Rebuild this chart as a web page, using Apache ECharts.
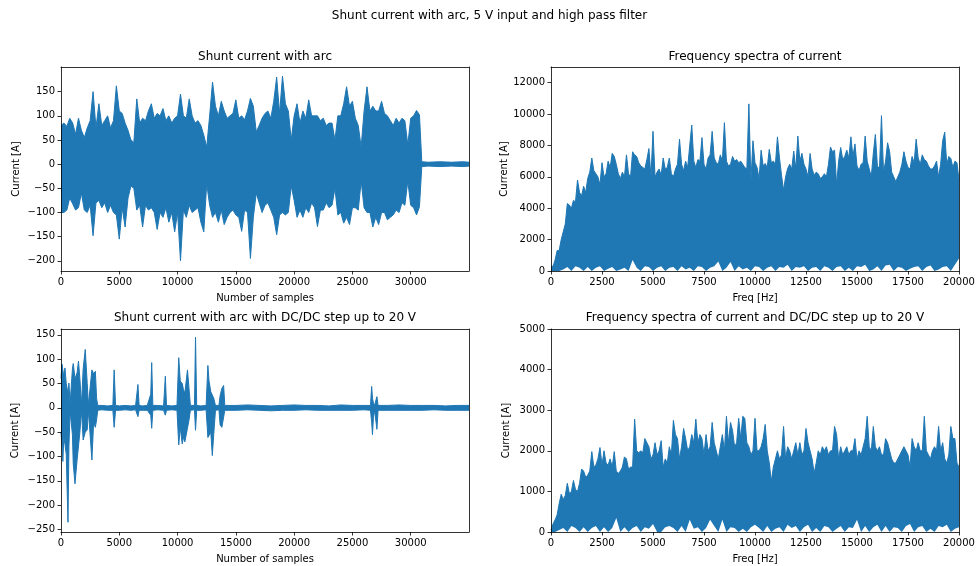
<!DOCTYPE html>
<html><head><meta charset="utf-8">
<script src="https://cdn.jsdelivr.net/npm/echarts@6/dist/echarts.min.js"></script>
<style>html,body{margin:0;padding:0;background:#fff}#c{width:979px;height:566px}</style>
</head><body><div id="c"></div>
<script>
// ---------------- DATA ----------------
const suptitle = 'Shunt current with arc, 5 V input and high pass filter';
const panelTitles = ['Shunt current with arc', 'Frequency spectra of current',
  'Shunt current with arc with DC/DC step up to 20 V', 'Frequency spectra of current and DC/DC step up to 20 V'];
const sampleTicks = [0, 5000, 10000, 15000, 20000, 25000, 30000];
const freqTicks = [0, 2500, 5000, 7500, 10000, 12500, 15000, 17500, 20000];
const tlYTicks = [-200, -150, -100, -50, 0, 50, 100, 150];
const blYTicks = [-250, -200, -150, -100, -50, 0, 50, 100, 150];
const trYTicks = [0, 2000, 4000, 6000, 8000, 10000, 12000];
const brYTicks = [0, 1000, 2000, 3000, 4000, 5000];

// Top-left: envelope of shunt current per 250-sample bin (max / min)
const tlBin = 250;
const tlHi = [80,85,78,95,85,62,95,70,55,75,
 90,150,75,125,80,90,100,75,90,162,
 110,105,85,70,50,45,135,85,95,90,
 110,125,95,105,100,115,90,100,85,95,
 100,145,100,95,135,100,85,90,80,60,
 35,100,170,120,100,130,110,95,100,105,
 133,95,100,92,110,136,120,67,80,95,
 105,110,95,130,180,105,182,125,110,50,
 100,125,85,110,95,133,100,100,100,90,
 95,80,85,85,50,100,100,125,160,120,
 130,95,80,35,110,160,110,120,110,110,
 130,105,100,90,80,95,85,95,90,40,
 95,100,111,102];
const tlLo = [-100,-100,-95,-70,-82,-95,-90,-60,-95,-100,
 -85,-148,-80,-75,-90,-80,-100,-85,-100,-105,
 -155,-90,-130,-70,-45,-50,-95,-85,-130,-85,
 -95,-90,-100,-135,-100,-110,-90,-120,-100,-140,
 -100,-200,-95,-110,-85,-100,-95,-90,-120,-140,
 -40,-85,-110,-100,-120,-95,-125,-110,-100,-95,
 -105,-110,-139,-95,-100,-195,-110,-60,-80,-100,
 -85,-80,-95,-110,-146,-105,-100,-105,-100,-45,
 -75,-110,-95,-110,-90,-100,-80,-90,-129,-95,
 -95,-80,-90,-85,-50,-105,-100,-122,-110,-125,
 -90,-90,-95,-35,-90,-100,-100,-130,-110,-125,
 -100,-100,-115,-110,-105,-95,-100,-80,-85,-35,
 -85,-90,-105,-88];
// after the arc stops: small noise band
const tlTailX = [30950, 31500, 32500, 33500, 34500, 35000];
const tlTailHi = [5, 4, 5, 4, 5, 4];
const tlTailLo = [-5, -4, -5, -4, -5, -4];

// Bottom-left: envelope at explicit sample positions
const blX = [0,80,160,240,340,450,600,680,780,880,980,1050,1200,1380,1500,1620,1760,1900,2080,2250,2350,2500,2650,2800,2950,3050,3150,3500,4000,4450,
 4560,4680,5000,5500,6000,6400,6600,6700,7000,7400,7700,7780,7880,8300,8800,8950,9050,9500,9950,
 10100,10230,10400,10500,10620,10850,10980,11100,11450,11540,11640,12000,12450,12600,12700,12850,12980,13100,13250,13550,13650,13800,13950,14050,
 15000,16000,17000,18000,19000,20000,21000,22000,23000,24000,25000,26000,26550,26650,26720,26800,26900,27100,27200,28000,29000,30000,31000,32000,33000,34000,35000];
const blHi = [60,90,90,65,82,50,30,51,8,5,80,91,60,72,96,60,6,80,120,50,6,5,78,70,75,20,5,5,4,5,
 78,5,4,5,4,5,48,5,4,5,28,93,5,5,4,65,5,4,5,
 103,55,50,38,30,78,40,5,5,145,5,4,5,87,55,33,30,20,5,5,25,40,46,5,
 5,6,5,4,5,6,5,5,4,6,5,5,5,44,20,10,5,23,5,5,6,5,5,5,4,5,5];
const blLo = [-50,-76,-110,-60,-75,-95,-235,-80,-6,-5,-55,-115,-156,-107,-108,-50,-5,-66,-50,-45,-5,-6,-107,-30,-40,-25,-5,-4,-5,-5,
 -40,-5,-5,-4,-5,-4,-18,-5,-5,-5,-15,-42,-5,-4,-5,-15,-5,-4,-5,
 -76,-40,-74,-60,-70,-42,-25,-5,-4,-46,-5,-5,-4,-61,-65,-50,-98,-55,-5,-4,-35,-40,-42,-5,
 -5,-4,-5,-6,-5,-5,-4,-5,-5,-5,-5,-4,-5,-30,-55,-20,-5,-44,-5,-5,-5,-5,-5,-4,-5,-5,-5];

// Top-right: spectrum upper envelope per 100 Hz, lower envelope per 200 Hz
const trStep = 100, trLoStep = 200;
const trHi = [300,300,700,1300,1300,2000,2500,3000,4300,4200,
 4000,4500,4400,5800,5000,4800,5400,5000,5900,6300,
 7200,6400,6200,6000,5500,6900,6000,6200,7000,6600,
 7500,7300,6800,6200,5900,6300,6000,7400,6200,6000,
 7600,7400,7300,6900,6700,6600,6500,7100,7800,6000,
 8900,6000,6300,6500,6100,7200,6500,6600,7200,6200,
 6000,6500,6800,8400,6800,6400,7000,6600,8000,9300,
 7000,6600,7100,7000,8500,6800,6500,7200,7400,8900,
 7200,6900,6800,7400,7000,9450,7000,6700,6800,7300,
 7000,7100,6900,7000,6800,6600,6500,10650,5700,8300,
 6900,6600,5900,7700,6700,6850,6600,7750,6900,7000,
 6800,8550,7200,6100,5150,6000,6530,6800,6500,7640,
 6500,8600,7000,7500,6800,6500,6000,7490,6500,6100,
 6300,6200,5900,6000,6200,6000,6800,7900,7600,7700,
 5500,7000,7870,7100,7300,7700,7200,8550,7300,8100,
 6700,6400,6800,6900,8600,7000,6500,6000,7500,8700,
 6700,6500,9900,6300,7000,8170,7600,6300,6000,5700,
 6000,6300,6800,7600,7000,6600,6500,7300,6900,8400,
 7200,6800,7400,7100,7000,6700,6500,6500,6700,7000,
 6000,6800,8300,8850,6800,7300,7170,6600,7000,6900,
 5800];
const trLo = [0,0,0,100,250,0,300,200,0,250,
 0,200,300,0,150,250,0,100,200,0,
 700,200,0,300,250,0,200,300,0,200,
 250,0,300,100,200,0,300,250,0,200,
 300,600,0,200,575,0,300,100,200,0,
 300,250,0,200,300,0,250,200,400,0,
 250,200,300,0,200,250,0,300,200,0,
 250,300,0,200,0,300,250,400,0,100,
 300,0,350,400,0,250,200,0,150,250,
 300,0,250,350,0,100,250,300,0,400,
 790];

// Bottom-right: spectrum with DC/DC, upper per 100 Hz, lower per 200 Hz
const brHi = [50,200,300,420,700,930,800,900,1200,950,
 1000,1270,1050,1000,1200,1550,1500,1350,1400,1500,
 1980,1600,1650,1800,2080,1650,2000,1700,1650,1800,
 1600,1980,1500,1450,1500,1600,1850,1800,1550,1600,
 1600,2780,2000,1950,2000,1950,2300,2200,2100,1800,
 1900,2200,1900,2000,2250,1600,1800,1700,2100,1900,
 2750,2400,2300,1800,2100,2550,2300,2000,2100,2400,
 2200,2780,2200,2400,2300,1900,2400,2000,2100,2700,
 2200,2000,1800,2100,2400,2000,2850,2200,2700,2500,
 2100,2200,2800,2300,2850,2800,2200,2100,1900,2000,
 2800,2000,2000,2100,2300,2650,2000,1700,1250,1600,
 1800,2000,1800,1900,2600,1800,2100,2000,1800,2000,
 2200,1900,2200,1900,2000,2550,2200,2000,1800,1450,
 1700,2000,1900,2100,2000,2100,1900,2000,2000,2600,
 2400,1800,2100,1900,2000,2100,1900,2000,2000,2300,
 1800,2000,1900,2100,2300,2850,2100,2000,2600,2100,
 2000,2100,1900,1900,2300,2200,2000,1800,1700,1700,
 1800,1900,2000,2100,2000,1900,1600,2300,2100,2000,
 2200,2000,2000,2850,2000,1900,1800,2000,2100,2000,
 2600,2000,2200,1800,1700,1900,2600,2300,2300,1700,
 1600];
const brLo = [0,0,50,100,0,150,100,0,120,0,
 100,150,0,120,0,100,343,0,120,0,
 100,150,0,120,80,200,0,0,120,150,
 100,0,150,0,300,80,120,0,100,300,
 150,0,300,0,120,100,0,80,0,120,
 180,100,0,150,0,80,120,0,180,100,
 150,0,120,180,0,100,0,150,120,0,
 80,150,0,120,100,300,0,150,0,120,
 180,0,150,0,120,100,0,150,200,0,
 120,150,0,80,0,150,120,180,0,80,
 120];

// ---------------- CHART ----------------
const BLUE = '#1f77b4';
const FONT = 'DejaVu Sans';
const fmt = v => String(v).replace('-', '\u2212');
const grids = [
  {left: 61, top: 67, width: 408, height: 204},
  {left: 551, top: 67, width: 408, height: 204},
  {left: 61, top: 329, width: 408, height: 203},
  {left: 551, top: 329, width: 408, height: 203}
];
const panels = [
  {xmin: 0, xmax: 35000, xt: sampleTicks, ymin: -221, ymax: 201, yt: tlYTicks, xname: 'Number of samples', yGap: 40, band: 2},
  {xmin: 0, xmax: 20000, xt: freqTicks, ymin: 0, ymax: 13000, yt: trYTicks, xname: 'Freq [Hz]', yGap: 40, band: 0},
  {xmin: 0, xmax: 35000, xt: sampleTicks, ymin: -255, ymax: 162, yt: blYTicks, xname: 'Number of samples', yGap: 41, band: 2},
  {xmin: 0, xmax: 20000, xt: freqTicks, ymin: 0, ymax: 5000, yt: brYTicks, xname: 'Freq [Hz]', yGap: 40, band: 0}
];
const line = {color: '#000', width: 0.8};
const xAxes = [], yAxes = [];
panels.forEach((p, gi) => {
  xAxes.push({gridIndex: gi, type: 'value', min: p.xmin, max: p.xmax, z: 10,
    name: p.xname, nameLocation: 'middle', nameGap: 22,
    nameTextStyle: {color: '#000', fontSize: 10, fontFamily: FONT},
    axisLine: {show: true, onZero: false, lineStyle: line},
    axisTick: {show: true, length: 3.5, lineStyle: line, customValues: p.xt},
    axisLabel: {color: '#000', fontSize: 10, fontFamily: FONT, margin: 6, customValues: p.xt, formatter: fmt},
    splitLine: {show: false}});
  xAxes.push({gridIndex: gi, type: 'value', position: 'top', min: p.xmin, max: p.xmax, z: 10,
    axisLine: {show: true, onZero: false, lineStyle: line},
    axisTick: {show: false}, axisLabel: {show: false}, splitLine: {show: false}});
  yAxes.push({gridIndex: gi, type: 'value', min: p.ymin, max: p.ymax, z: 10,
    name: 'Current [A]', nameLocation: 'middle', nameGap: p.yGap,
    nameTextStyle: {color: '#000', fontSize: 10, fontFamily: FONT},
    axisLine: {show: true, onZero: false, lineStyle: line},
    axisTick: {show: true, length: 3.5, lineStyle: line, customValues: p.yt},
    axisLabel: {color: '#000', fontSize: 10, fontFamily: FONT, margin: 6, customValues: p.yt, formatter: fmt},
    splitLine: {show: false}});
  yAxes.push({gridIndex: gi, type: 'value', position: 'right', min: p.ymin, max: p.ymax, z: 10,
    axisLine: {show: true, onZero: false, lineStyle: line},
    axisTick: {show: false}, axisLabel: {show: false}, splitLine: {show: false}});
});

// origin: fill towards (slightly past) zero so the two halves of a band overlap
function blueArea(gi, data, origin) {
  return {type: 'line', xAxisIndex: 2 * gi, yAxisIndex: 2 * gi, data: data, symbol: 'none',
    silent: true, z: 2, lineStyle: {color: BLUE, width: 1}, itemStyle: {color: BLUE},
    areaStyle: {color: BLUE, opacity: 1, origin: origin}};
}
function whiteArea(gi, data) {
  return {type: 'line', xAxisIndex: 2 * gi, yAxisIndex: 2 * gi, data: data, symbol: 'none',
    silent: true, z: 3, lineStyle: {width: 0, opacity: 0}, itemStyle: {color: '#fff'},
    areaStyle: {color: '#fff', opacity: 1, origin: 0}};
}
const tlX = tlHi.map((_, i) => i * tlBin).concat(tlTailX);
const tlHiAll = tlHi.concat(tlTailHi), tlLoAll = tlLo.concat(tlTailLo);
const series = [
  blueArea(0, tlX.map((x, i) => [x, tlHiAll[i]]), -3),
  blueArea(0, tlX.map((x, i) => [x, tlLoAll[i]]), 3),
  blueArea(1, trHi.map((v, i) => [i * trStep, v]), 0),
  whiteArea(1, trLo.map((v, i) => [i * trLoStep, v])),
  blueArea(2, blX.map((x, i) => [x, blHi[i]]), -3),
  blueArea(2, blX.map((x, i) => [x, blLo[i]]), 3),
  blueArea(3, brHi.map((v, i) => [i * trStep, v]), 0),
  whiteArea(3, brLo.map((v, i) => [i * trLoStep, v]))
];
const tStyle = {color: '#000', fontSize: 12, fontWeight: 'normal', fontFamily: FONT};
const titles = [{text: suptitle, left: 489.5, top: 10, textAlign: 'center', padding: 0, textStyle: tStyle}];
const tPos = [[265, 51], [755, 51], [265, 312], [755, 312]];
panelTitles.forEach((t, i) => titles.push({text: t, left: tPos[i][0], top: tPos[i][1], textAlign: 'center', padding: 0, textStyle: tStyle}));

const chart = echarts.init(document.getElementById('c'), null, {renderer: 'canvas'});
chart.setOption({
  backgroundColor: '#fff',
  animation: false,
  title: titles,
  grid: grids.map(g => Object.assign({containLabel: false, outerBoundsMode: 'none'}, g)),
  xAxis: xAxes,
  yAxis: yAxes,
  series: series
});
</script></body></html>
